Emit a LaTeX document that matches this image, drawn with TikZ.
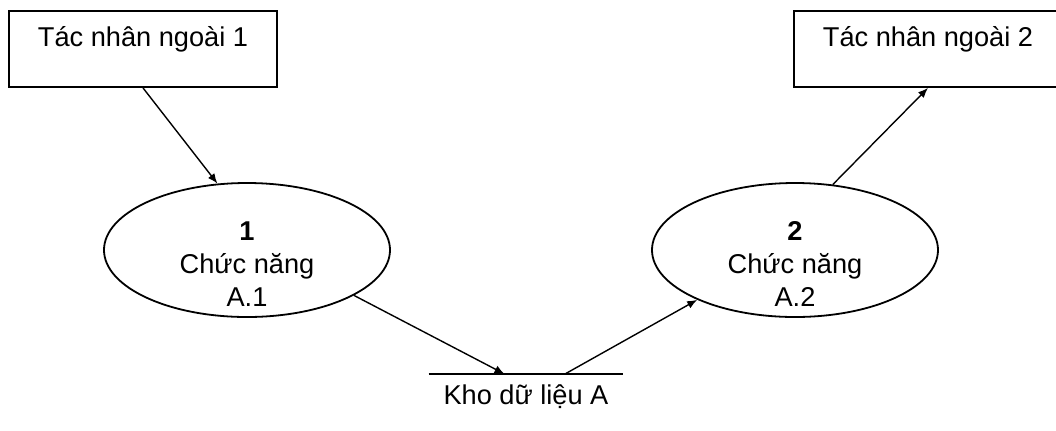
\documentclass[tikz,border=0pt]{standalone}
\usepackage{fontspec}
\setmainfont{Liberation Sans}
\usetikzlibrary{arrows.meta,shapes.geometric,calc}
\tikzset{
  agent/.style={draw, line width=0.9pt, minimum width=134pt, minimum height=38pt,
    inner sep=0pt, text height=10pt, text depth=13pt},
  process/.style={draw, ellipse, line width=0.9pt, minimum width=143pt, minimum height=67pt,
    inner xsep=0pt, inner ysep=-5pt, align=center, text height=56pt, text depth=0pt},
  flow/.style={-{Latex[length=5pt,width=4pt]}, line width=0.7pt},
}
\begin{document}
\begin{tikzpicture}[x=0.5pt,y=-0.5pt,font=\fontsize{13.6}{16.5}\selectfont]
    \useasboundingbox (0,0) rectangle (1056,430);
    \clip (0,0) rectangle (1056,430);
    % external agents
    \node[agent] (ext1) at (143,49) {Tác nhân ngoài 1};
    \node[agent] (ext2) at (928,49) {Tác nhân ngoài 2};
    % processes
    \node[process] (p1) at (247,250) {\textbf{1}\\Chức năng\\A.1};
    \node[process] (p2) at (795,250) {\textbf{2}\\Chức năng\\A.2};
    % data store
    \node[anchor=north, minimum width=97pt, inner xsep=0pt, inner ysep=5pt, text height=10pt]
        (store) at (526,374) {Kho dữ liệu A};
    \draw[line width=0.7pt] (store.north west) -- (store.north east);
    \coordinate (in) at ($(store.north west)!0.39!(store.north east)$);
    \coordinate (out) at ($(store.north west)!0.70!(store.north east)$);
    % flows
    \draw[flow] (ext1.south) -- (p1.114);
    \draw[flow] (p1.-23) -- (in);
    \draw[flow] (out) -- (p2.207);
    \draw[flow] (p2.60) -- (ext2.south);
\end{tikzpicture}
\end{document}
